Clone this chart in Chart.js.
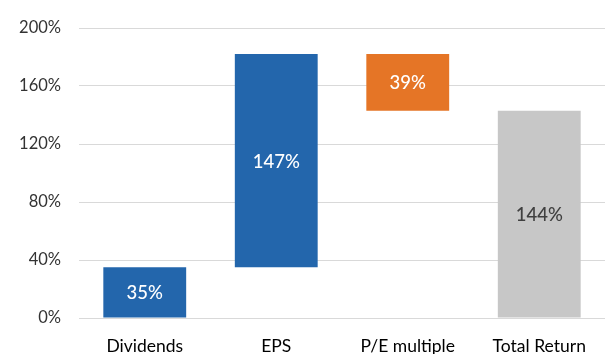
<!DOCTYPE html>
<html><head><meta charset="utf-8">
<script src="https://cdn.jsdelivr.net/npm/chart.js@4"></script>
<style>html,body{margin:0;padding:0;background:#fff}#w{width:605px;height:354px}</style>
</head><body><div id="w"><canvas id="c"></canvas></div>
<script>
const categories = ["Dividends", "EPS", "P/E multiple", "Total Return"];
const barStarts = [0, 35, 182, 0];
const barEnds = [35, 182, 143, 143];
const valueLabels = ["35%", "147%", "39%", "144%"];
const barColors = ["#2366ac", "#2366ac", "#e57526", "#c7c7c7"];
const labelColors = ["#ffffff", "#ffffff", "#ffffff", "#404040"];
const yTicks = [0, 40, 80, 120, 160, 200];

const FONT = "Lato, 'Open Sans', sans-serif";

const labelPlugin = {
  id: 'vlabels',
  afterDatasetsDraw(chart) {
    const ctx = chart.ctx;
    const meta = chart.getDatasetMeta(0);
    ctx.save();
    ctx.font = "500 18.5px " + FONT;
    ctx.textAlign = 'center';
    ctx.textBaseline = 'middle';
    meta.data.forEach((bar, i) => {
      const p = bar.getProps(['x', 'y', 'base'], true);
      ctx.fillStyle = labelColors[i];
      ctx.fillText(valueLabels[i], p.x, (p.y + p.base) / 2 + 1);
    });
    ctx.restore();
  }
};

new Chart(document.getElementById('c'), {
  type: 'bar',
  data: {
    labels: categories,
    datasets: [{
      data: categories.map((_, i) => [barStarts[i], barEnds[i]]),
      backgroundColor: barColors,
      borderWidth: 0,
      barPercentage: 0.63,
      categoryPercentage: 1.0
    }]
  },
  options: {
    responsive: true,
    maintainAspectRatio: false,
    animation: false,
    layout: { padding: { top: 28, right: 0, bottom: 0, left: 0 } },
    plugins: { legend: { display: false }, tooltip: { enabled: false } },
    scales: {
      x: {
        grid: { display: false, drawTicks: false },
        border: { display: false },
        ticks: { color: '#000000', font: { family: FONT, size: 17.5 }, padding: 18, maxRotation: 0 },
        afterFit(s) { s.height = 36; s.paddingLeft = 0; s.paddingRight = 0; }
      },
      y: {
        min: 0, max: 200,
        afterBuildTicks(s) { s.ticks = yTicks.map(v => ({ value: v })); },
        grid: { color: '#d9d9d9', lineWidth: 1, drawTicks: false },
        border: { display: false },
        ticks: { color: '#333333', font: { family: FONT, size: 16.5 }, padding: 18, callback: v => v + '%' },
        afterFit(s) { s.width = 79; s.paddingTop = 0; s.paddingBottom = 0; }
      }
    }
  },
  plugins: [labelPlugin]
});
</script>
</body></html>
